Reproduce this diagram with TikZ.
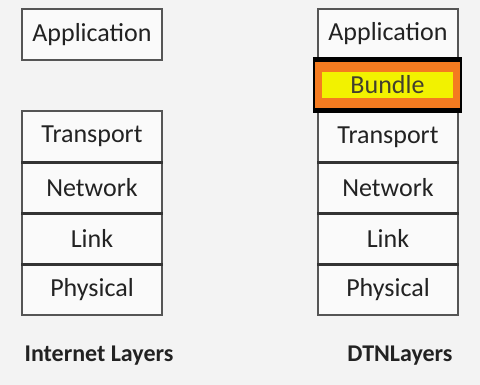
\documentclass[tikz,border=0pt]{standalone}
\usepackage{fontspec}
\setmainfont{Carlito}
\definecolor{bg}{HTML}{F3F3F3}
\definecolor{edge}{HTML}{555555}
\definecolor{ink}{HTML}{222222}
\definecolor{bundleor}{HTML}{F47B20}
\definecolor{bundleye}{HTML}{F2F200}
\begin{document}
\begin{tikzpicture}[x=0.75pt,y=-0.75pt,
  layer/.style={draw=edge,line width=1.2pt,fill=white!60!bg,minimum width=105pt,minimum height=38.25pt,inner sep=0pt,font=\fontsize{19.5}{21}\selectfont,text=ink,anchor=center},
  sep/.style={draw=black!80,line width=2.2pt},
  caption/.style={font=\fontsize{18}{20}\selectfont\bfseries,text=ink,inner sep=0pt}]
\fill[bg] (0,0) rectangle (480,385);
\useasboundingbox (0,0) rectangle (480,385);
% left stack
\node[layer] (lapp) at (92,34.5) {Application};
\node[layer] (ltra) at (92,136.5) {Transport};
\node[layer] (lnet) at (92,187.5) {Network};
\node[layer] (llin) at (92,238.5) {Link};
\node[layer] (lphy) at (92,289.5) {Physical};
\draw[sep] (ltra.south west) -- (ltra.south east);
\draw[sep] (lnet.south west) -- (lnet.south east);
\draw[sep] (llin.south west) -- (llin.south east);
% right stack
\node[layer,minimum height=36.75pt] (rapp) at (388,33.5) {Application};
\node[layer,minimum height=37.5pt] (rtra) at (388,137) {Transport};
\node[layer] (rnet) at (388,187.5) {Network};
\node[layer] (rlin) at (388,238.5) {Link};
\node[layer] (rphy) at (388,289.5) {Physical};
\draw[sep] (rtra.south west) -- (rtra.south east);
\draw[sep] (rnet.south west) -- (rnet.south east);
\draw[sep] (rlin.south west) -- (rlin.south east);
% bundle
\node[draw=black,line width=1.5pt,fill=bundleor,minimum width=110.25pt,minimum height=39pt,inner sep=0pt] (rbun) at (387.5,85) {};
\draw[black,line width=3.75pt] ([yshift=-1.4pt]rbun.north west) -- ([yshift=-1.4pt]rbun.north east);
\draw[black,line width=3.75pt] ([yshift=1.4pt]rbun.south west) -- ([yshift=1.4pt]rbun.south east);
\node[fill=bundleye,minimum width=98pt,minimum height=20pt,inner sep=0pt,font=\fontsize{19.5}{21}\selectfont,text=black!70!olive] (bund) at (rbun.center) {Bundle};
% captions
\node[caption] (lcap) at (99,356) {Internet Layers};
\node[caption] (rcap) at (400,356) {DTNLayers};
\end{tikzpicture}
\end{document}
